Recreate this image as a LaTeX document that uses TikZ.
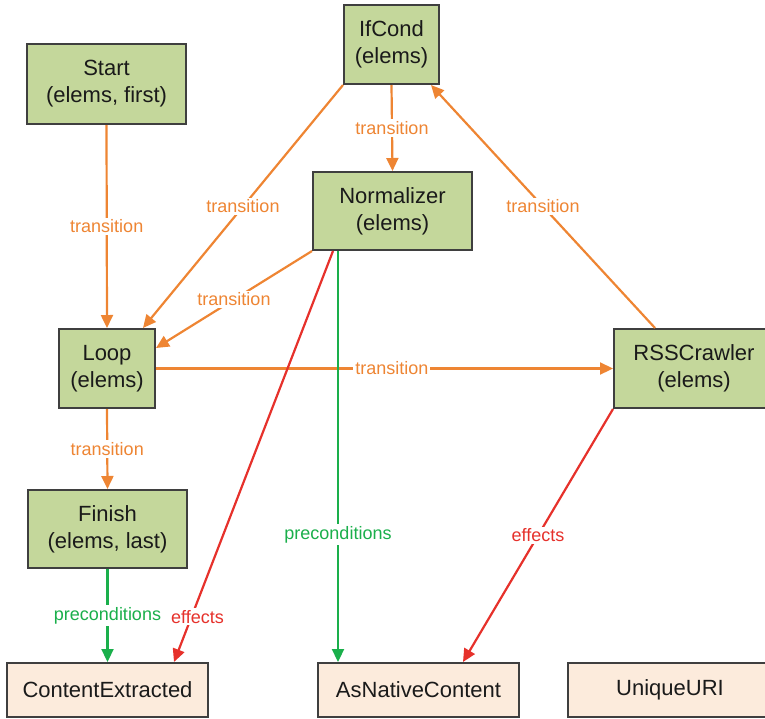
\documentclass[tikz,border=0pt]{standalone}
\usepackage{fontspec}
\setmainfont{Liberation Sans}
\usetikzlibrary{arrows.meta}
\definecolor{statefill}{HTML}{C4D79B}
\definecolor{factfill}{HTML}{FCEBDC}
\definecolor{boxline}{HTML}{3F3F3F}
\definecolor{transcol}{HTML}{EE8533}
\definecolor{precol}{HTML}{1AAF4B}
\definecolor{effcol}{HTML}{E6312B}
\definecolor{txtcol}{HTML}{1A1A1A}
\begin{document}
\begin{tikzpicture}[x=1pt,y=-1pt,
  state/.style={draw=boxline,line width=2pt,fill=statefill,text=txtcol,
    align=center,inner sep=0pt,font=\fontsize{22}{27}\selectfont},
  fact/.style={draw=boxline,line width=2pt,fill=factfill,text=txtcol,
    align=center,inner sep=0pt,minimum height=53.5pt,font=\fontsize{22}{27}\selectfont},
  edge/.style={line width=2.2pt,-{Triangle[length=13pt,width=12pt]}},
  trans/.style={edge,draw=transcol},
  pre/.style={edge,draw=precol},
  eff/.style={edge,draw=effcol},
  lbl/.style={fill=white,inner sep=2pt,font=\fontsize{18}{20}\selectfont},
  tlbl/.style={lbl,text=transcol},
  plbl/.style={lbl,text=precol},
  elbl/.style={lbl,text=effcol}]
\clip (0,0) rectangle (765,718);

% state boxes
\node[state,minimum width=159pt,minimum height=80pt] (start) at (106.5,84) {Start\\(elems, first)};
\node[state,minimum width=95pt,minimum height=79pt] (ifcond) at (391.5,44.5) {IfCond\\(elems)};
\node[state,minimum width=159pt,minimum height=78pt] (norm) at (392.5,211) {Normalizer\\(elems)};
\node[state,minimum width=96pt,minimum height=79pt] (loop) at (107,368.5) {Loop\\(elems)};
\node[state,minimum width=159pt,minimum height=78pt] (finish) at (107.5,529) {Finish\\(elems, last)};
\node[state,minimum width=160pt,minimum height=79pt] (rss) at (694,368.5) {RSSCrawler\\(elems)};

% fact boxes
\node[fact,minimum width=201pt] (content) at (107.5,689.75) {ContentExtracted};
\node[fact,minimum width=201pt] (native) at (418.5,689.75) {AsNativeContent};
\node[fact,minimum width=204pt] (unique) at (670,689.75) {UniqueURI};

% transitions
\draw[trans] (start.south) -- node[tlbl] {transition} (loop.north);
\draw[trans] (ifcond.south west) -- node[tlbl] {transition} ([xshift=-13pt]loop.north east);
\draw[trans] (ifcond.south) -- node[tlbl] {transition} (norm.north);
\draw[trans] (norm.south west) -- node[tlbl] {transition} ([yshift=20.5pt]loop.east);
\draw[trans] ([xshift=-39pt]rss.north) -- node[tlbl] {transition} ([xshift=-9pt]ifcond.south east);
\draw[trans] (loop.east) -- node[tlbl,pos=0.516] {transition} (rss.west);
\draw[trans] (loop.south) -- node[tlbl] {transition} (finish.north);

% preconditions and effects
\draw[pre] (finish.south) -- node[plbl] {preconditions} (content.north);
\draw[eff] ([xshift=21pt]norm.south west) -- node[elbl,pos=0.89,xshift=6pt] {effects} ([xshift=-35pt]content.north east);
\draw[pre] ([xshift=26pt]norm.south west) -- node[plbl,pos=0.69] {preconditions} ([xshift=21pt]native.north west);
\draw[eff] (rss.south west) -- node[elbl] {effects} ([xshift=-57pt]native.north east);
\end{tikzpicture}
\end{document}
